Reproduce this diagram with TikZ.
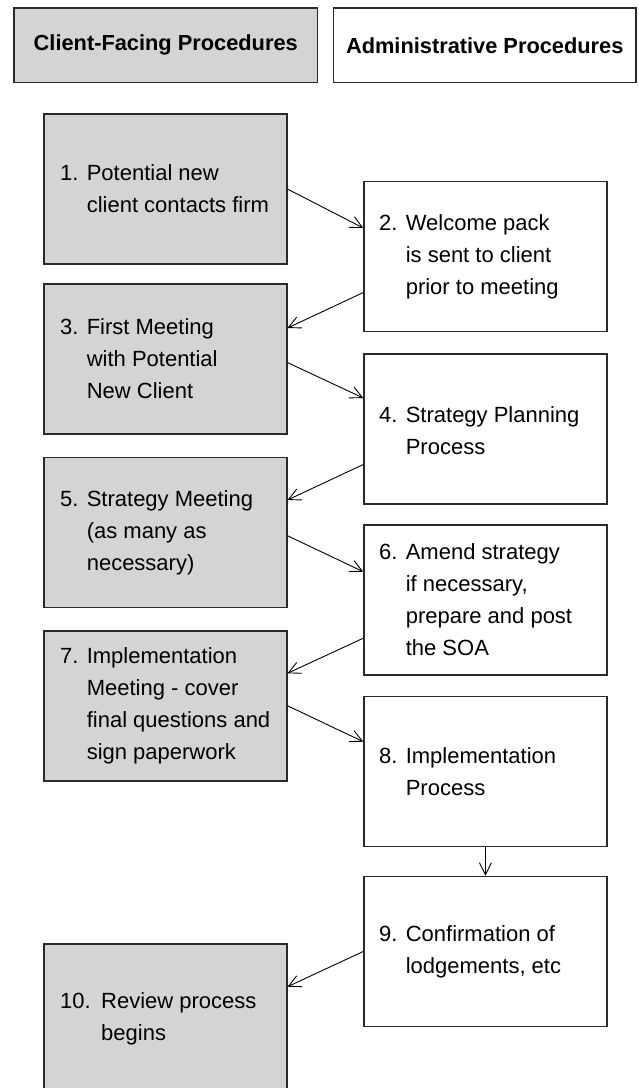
\documentclass[tikz,border=0pt]{standalone}
\usepackage{fontspec}
\setmainfont{Liberation Sans}
\usetikzlibrary{arrows.meta,calc}
\definecolor{boxgray}{HTML}{D3D4D6}
\definecolor{edgecol}{HTML}{2A2A2A}
\newcommand{\nm}[2][26.6pt]{\makebox[#1][l]{#2}}
\newcommand{\ind}[1][26.6pt]{\hspace*{#1}}
\begin{document}
\begin{tikzpicture}[x=1pt,y=-1pt,
  box/.style={draw=edgecol, line width=1.5pt, minimum width=242.7pt, minimum height=150pt, inner sep=0pt, anchor=north west},
  cbox/.style={box, fill=boxgray},
  abox/.style={box, fill=white},
  hdr/.style={draw=edgecol, line width=1.5pt, minimum height=74.4pt, inner sep=0pt, anchor=north west, font=\fontsize{21.8}{26}\selectfont\bfseries},
  txt/.style={anchor=west, align=left, inner sep=0pt, font=\fontsize{22}{32}\selectfont},
  arr/.style={-{Straight Barb[length=12pt,width=12pt]}, line width=0.9pt, draw=black}]
\useasboundingbox (0,0) rectangle (638,1088);
\clip (0,0) rectangle (638,1088);
% headers
\node[hdr, fill=boxgray, minimum width=303.4pt] (h1) at (13.3,7.3) {Client-Facing Procedures};
\node[hdr, fill=white, minimum width=302.6pt] (h2) at (332.7,7.3) {Administrative Procedures};
% boxes
\node[cbox] (b1) at (43.3,113.3) {};
\node[abox] (b2) at (363.3,180.7) {};
\node[cbox] (b3) at (43.3,283.3) {};
\node[abox] (b4) at (363.3,353.3) {};
\node[cbox] (b5) at (43.3,456.7) {};
\node[abox] (b6) at (363.3,524.3) {};
\node[cbox] (b7) at (43.3,630) {};
\node[abox] (b8) at (363.3,695.7) {};
\node[abox] (b9) at (363.3,875.7) {};
\node[cbox] (b10) at (43.3,943.3) {};
% texts
\node[txt] (t1) at ($(b1.west)+(16.7,0)$) {\nm{1.}Potential new\\\ind client contacts firm};
\node[txt] (t2) at ($(b2.west)+(15.7,0)$) {\nm{2.}Welcome pack\\\ind is sent to client\\\ind prior to meeting};
\node[txt] (t3) at ($(b3.west)+(16.7,0)$) {\nm{3.}First Meeting\\\ind with Potential\\\ind New Client};
\node[txt] (t4) at ($(b4.west)+(15.7,2)$) {\nm{4.}Strategy Planning\\\ind Process};
\node[txt] (t5) at ($(b5.west)+(16.7,0)$) {\nm{5.}Strategy Meeting\\\ind (as many as\\\ind necessary)};
\node[txt] (t6) at ($(b6.west)+(15.7,0)$) {\nm{6.}Amend strategy\\\ind if necessary,\\\ind prepare and post\\\ind the SOA};
\node[txt] (t7) at ($(b7.west)+(16.7,0)$) {\nm{7.}Implementation\\\ind Meeting - cover\\\ind final questions and\\\ind sign paperwork};
\node[txt] (t8) at ($(b8.west)+(15.7,0)$) {\nm{8.}Implementation\\\ind Process};
\node[txt] (t9) at ($(b9.west)+(15.7,0)$) {\nm{9.}Confirmation of\\\ind lodgements, etc};
\node[txt] (t10) at ($(b10.west)+(16.7,0)$) {\nm[41pt]{10.}Review process\\\ind[41pt]begins};
% arrows
\draw[arr] (b1.east) -- ($(b2.north west)+(0,47.3)$);
\draw[arr] ($(b2.south west)+(0,-39.7)$) -- ($(b3.north east)+(0,44.7)$);
\draw[arr] ($(b3.east)+(0,3.5)$) -- ($(b4.north west)+(0,44.7)$);
\draw[arr] ($(b4.south west)+(0,-40.3)$) -- ($(b5.north east)+(0,43.3)$);
\draw[arr] ($(b5.east)+(0,3.3)$) -- ($(b6.north west)+(0,47.4)$);
\draw[arr] ($(b6.south west)+(0,-37.6)$) -- ($(b7.north east)+(0,43.3)$);
\draw[arr] (b7.east) -- ($(b8.north west)+(0,46)$);
\draw[arr] (b8.south) -- (b9.north);
\draw[arr] (b9.west) -- ($(b10.north east)+(0,43.4)$);
\end{tikzpicture}
\end{document}
